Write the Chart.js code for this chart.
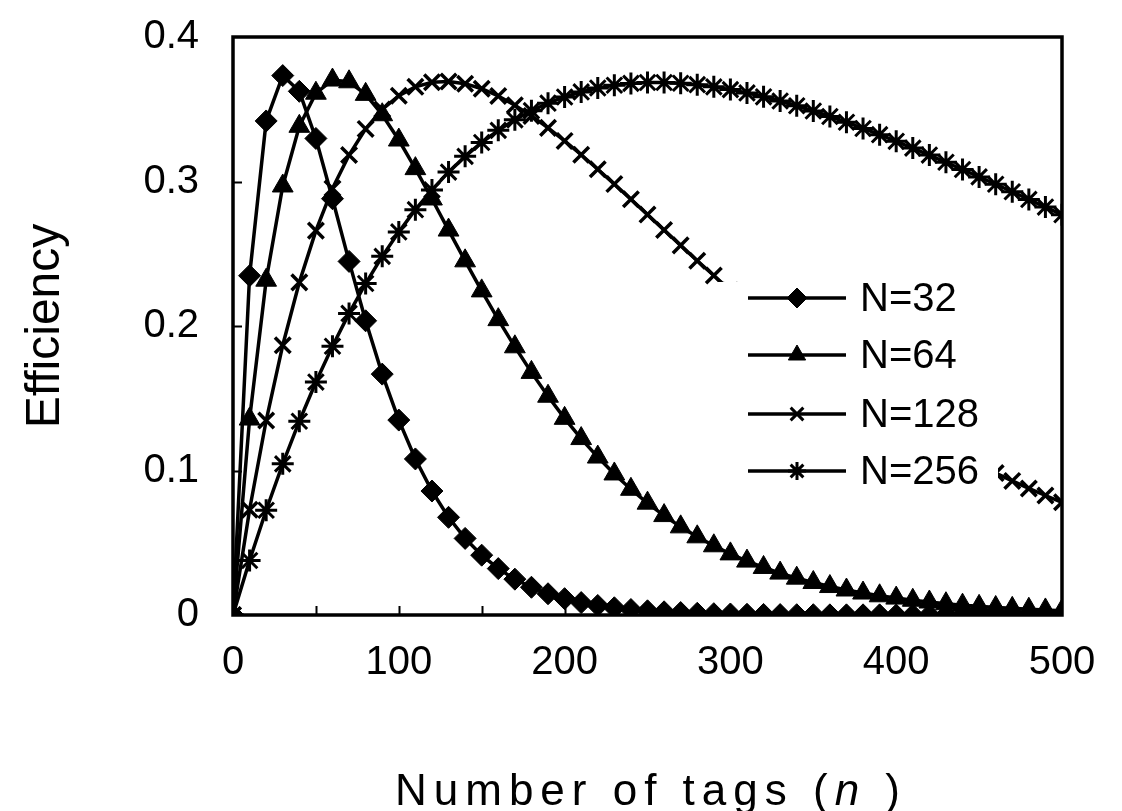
<!DOCTYPE html>
<html>
<head>
<meta charset="utf-8">
<script src="https://cdn.jsdelivr.net/npm/chart.js@4.4.0/dist/chart.umd.min.js"></script>
<style>
  html, body { margin: 0; padding: 0; background: #fff; }
  #wrap { width: 1122px; height: 811px; }
</style>
</head>
<body>
<div id="wrap"><canvas id="effChart" width="1122" height="811"></canvas></div>
<script>
// number of tags n (x values)
const tags = [0, 10, 20, 30, 40, 50, 60, 70, 80, 90, 100, 110, 120, 130, 140, 150, 160, 170, 180, 190,
    200, 210, 220, 230, 240, 250, 260, 270, 280, 290, 300, 310, 320, 330, 340, 350, 360, 370, 380, 390,
    400, 410, 420, 430, 440, 450, 460, 470, 480, 490, 500];

// efficiency
const eff32 = [0, 0.2348, 0.3419, 0.3733, 0.3624, 0.3298, 0.2881, 0.2447, 0.2036, 0.1667, 0.1349, 0.1080,
    0.0858, 0.0676, 0.0530, 0.0414, 0.0321, 0.0248, 0.0192, 0.0147, 0.0113, 0.0086, 0.0066, 0.0050, 0.0038,
    0.0029, 0.0022, 0.0017, 0.0012, 0.0009, 0.0007, 0.0005, 0.0004, 0.0003, 0.0002, 0.0002, 0.0001, 0.0001,
    0.0001, 0.0001, 0, 0, 0, 0, 0, 0, 0, 0, 0, 0, 0];
const eff64 = [0, 0.1356, 0.2317, 0.2969, 0.3382, 0.3611, 0.3702, 0.3690, 0.3603, 0.3462, 0.3287, 0.3089,
    0.2879, 0.2664, 0.2451, 0.2243, 0.2044, 0.1856, 0.1679, 0.1514, 0.1361, 0.1221, 0.1093, 0.0976, 0.0870,
    0.0774, 0.0688, 0.0610, 0.0541, 0.0479, 0.0423, 0.0373, 0.0329, 0.0290, 0.0255, 0.0225, 0.0197, 0.0173,
    0.0152, 0.0133, 0.0117, 0.0102, 0.0090, 0.0078, 0.0068, 0.0060, 0.0052, 0.0046, 0.0040, 0.0035, 0.0030];
const eff128 = [0, 0.0728, 0.1346, 0.1867, 0.2302, 0.2660, 0.2951, 0.3183, 0.3364, 0.3499, 0.3594, 0.3655,
    0.3687, 0.3692, 0.3677, 0.3642, 0.3592, 0.3528, 0.3454, 0.3371, 0.3281, 0.3185, 0.3085, 0.2982, 0.2877,
    0.2771, 0.2664, 0.2558, 0.2452, 0.2349, 0.2246, 0.2146, 0.2048, 0.1953, 0.1860, 0.1770, 0.1684, 0.1600,
    0.1519, 0.1441, 0.1367, 0.1295, 0.1227, 0.1161, 0.1099, 0.1039, 0.0982, 0.0928, 0.0876, 0.0827, 0.0780];
const eff256 = [0, 0.0377, 0.0725, 0.1046, 0.1341, 0.1612, 0.1860, 0.2087, 0.2294, 0.2482, 0.2651, 0.2805,
    0.2942, 0.3065, 0.3174, 0.3270, 0.3354, 0.3427, 0.3490, 0.3542, 0.3585, 0.3620, 0.3647, 0.3666, 0.3679,
    0.3685, 0.3685, 0.3680, 0.3670, 0.3655, 0.3636, 0.3613, 0.3586, 0.3557, 0.3524, 0.3488, 0.3450, 0.3410,
    0.3367, 0.3324, 0.3278, 0.3231, 0.3183, 0.3133, 0.3083, 0.3032, 0.2981, 0.2929, 0.2876, 0.2823, 0.2770];

const seriesNames = ['N=32', 'N=64', 'N=128', 'N=256'];
const xTicks = [0, 100, 200, 300, 400, 500];
const yTicks = [0, 0.1, 0.2, 0.3, 0.4];
const xMinor = [50, 100, 150, 200, 250, 300, 350, 400, 450];
const yMinor = [0.1, 0.2, 0.3];

const FONT = '"Liberation Sans", Arial, sans-serif';
const markers = [
    { pointStyle: 'rectRot', radius: 11, borderWidth: 1 },
    { pointStyle: 'triangle', radius: 12, borderWidth: 1 },
    { pointStyle: 'crossRot', radius: 11, borderWidth: 3.5 },
    { pointStyle: 'star', radius: 11, borderWidth: 3 }
];
const legendMarkers = [
    { pointStyle: 'rectRot', radius: 10, borderWidth: 1 },
    { pointStyle: 'triangle', radius: 10, borderWidth: 1 },
    { pointStyle: 'crossRot', radius: 9, borderWidth: 3 },
    { pointStyle: 'star', radius: 9, borderWidth: 3 }
];

const series = [eff32, eff64, eff128, eff256];
const datasets = series.map((vals, i) => ({
    label: seriesNames[i],
    data: vals.map((v, k) => ({ x: tags[k], y: v })),
    borderColor: '#000',
    backgroundColor: '#000',
    borderWidth: 3.5,
    tension: 0,
    pointStyle: markers[i].pointStyle,
    pointRadius: markers[i].radius,
    pointBorderWidth: markers[i].borderWidth,
    pointBackgroundColor: '#000',
    pointBorderColor: '#000'
}));

function drawMarker(ctx, m, x, y) {
    if (Chart.helpers && Chart.helpers.drawPoint) {
        Chart.helpers.drawPoint(ctx, { pointStyle: m.pointStyle, radius: m.radius, borderWidth: m.borderWidth, rotation: 0 }, x, y);
    }
}

const extras = {
    id: 'extras',
    afterDatasetsDraw(chart) {
        const { ctx, chartArea: a, scales: { x, y } } = chart;
        ctx.save();

        // legend sits inside the plot on a white box
        ctx.fillStyle = '#fff';
        ctx.fillRect(718, 282, 280, 218);
        const rows = [298, 355, 414, 471];
        ctx.font = '40px ' + FONT;
        ctx.textBaseline = 'middle';
        seriesNames.forEach((name, i) => {
            ctx.strokeStyle = '#000';
            ctx.lineWidth = 3.5;
            ctx.beginPath();
            ctx.moveTo(748, rows[i]);
            ctx.lineTo(846, rows[i]);
            ctx.stroke();
            ctx.fillStyle = '#000';
            ctx.lineWidth = legendMarkers[i].borderWidth;
            drawMarker(ctx, legendMarkers[i], 797, rows[i]);
            ctx.fillStyle = '#000';
            ctx.fillText(name, 860, rows[i] + 2);
        });

        // inward tick marks
        ctx.strokeStyle = '#000';
        ctx.lineWidth = 2;
        ctx.beginPath();
        xMinor.forEach(v => {
            const px = Math.round(x.getPixelForValue(v)) + 0.5;
            ctx.moveTo(px, a.bottom);
            ctx.lineTo(px, a.bottom - 9);
        });
        yMinor.forEach(v => {
            const py = Math.round(y.getPixelForValue(v)) + 0.5;
            ctx.moveTo(a.left, py);
            ctx.lineTo(a.left + 9, py);
        });
        ctx.stroke();

        // plot frame
        ctx.lineWidth = 3.5;
        ctx.strokeRect(a.left, a.top, a.right - a.left, a.bottom - a.top);
        ctx.restore();
    },
    afterDraw(chart) {
        const { ctx } = chart;
        ctx.save();
        ctx.fillStyle = '#000';
        ctx.textBaseline = 'alphabetic';
        if ('letterSpacing' in ctx) ctx.letterSpacing = '7px';
        const parts = [['Number of tags (', ''], ['n', 'italic '], [' )', '']];
        let total = 0;
        parts.forEach(p => { ctx.font = p[1] + '44px ' + FONT; total += ctx.measureText(p[0]).width; });
        let cx = 651 - total / 2;
        parts.forEach(p => {
            ctx.font = p[1] + '44px ' + FONT;
            ctx.fillText(p[0], cx, 805);
            cx += ctx.measureText(p[0]).width;
        });
        ctx.restore();
    }
};

new Chart(document.getElementById('effChart').getContext('2d'), {
    type: 'line',
    data: { datasets },
    options: {
        responsive: false,
        animation: false,
        layout: { padding: { top: 37, right: 60, left: 0, bottom: 0 } },
        plugins: { legend: { display: false }, tooltip: { enabled: false } },
        scales: {
            x: {
                type: 'linear',
                min: 0,
                max: 500,
                afterBuildTicks: s => { s.ticks = xTicks.map(v => ({ value: v })); },
                afterFit: s => { s.height = 196; s.paddingLeft = 0; s.paddingRight = 0; },
                grid: { display: false, drawTicks: false },
                border: { display: false },
                ticks: { color: '#000', padding: 24, font: { family: FONT, size: 40 } },
                title: { display: false }
            },
            y: {
                min: 0,
                max: 0.4,
                afterBuildTicks: s => { s.ticks = yTicks.map(v => ({ value: v })); },
                afterFit: s => { s.width = 233; s.paddingTop = 0; s.paddingBottom = 0; },
                grid: { display: false, drawTicks: false },
                border: { display: false },
                ticks: {
                    color: '#000', padding: 34, font: { family: FONT, size: 40 },
                    callback: v => (v === 0 ? '0' : v.toFixed(1))
                },
                title: {
                    display: true, text: 'Efficiency', color: '#000',
                    padding: { top: 17, bottom: 0 }, font: { family: FONT, size: 48 }
                }
            }
        }
    },
    plugins: [extras]
});
</script>
</body>
</html>
